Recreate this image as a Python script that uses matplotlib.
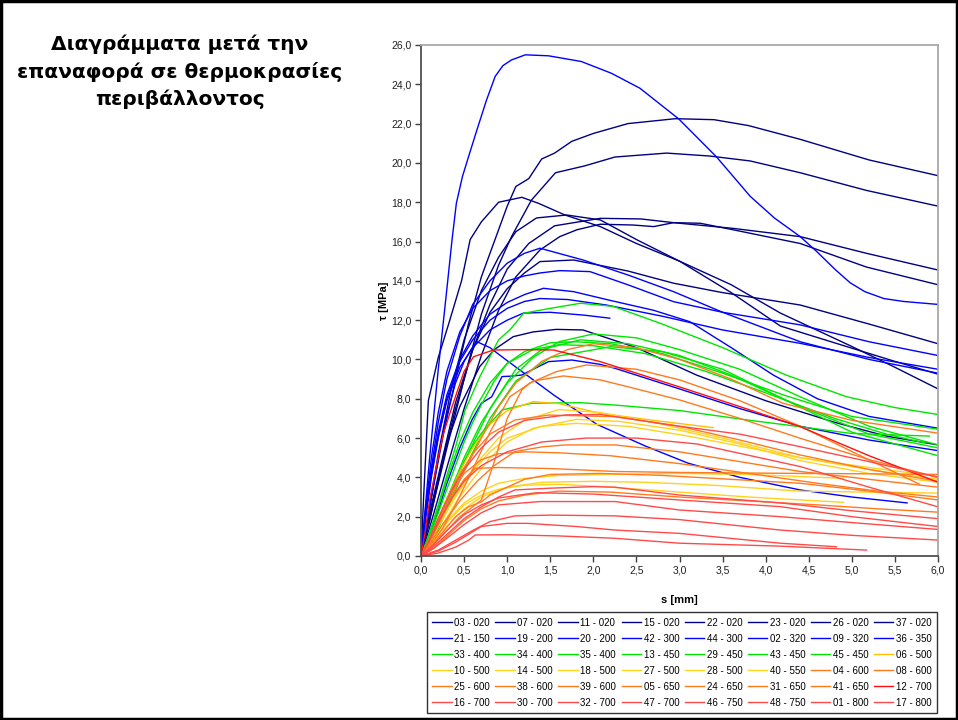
import matplotlib
matplotlib.use("Agg")
import matplotlib.pyplot as plt
from matplotlib.patches import Rectangle
from matplotlib.ticker import FuncFormatter, MultipleLocator

# ---- slip s [mm] and shear stress tau [MPa] for each specimen ----
# 020 (navy)
s_03_020 = [0, 0.1, 0.25, 0.4, 0.55, 0.7, 0.85, 1.0, 1.1, 1.25, 1.4, 1.55, 1.75, 2.0, 2.4, 2.95, 3.4, 3.8, 4.4, 5.2, 6.0]
t_03_020 = [0, 2.5, 6.0, 9.0, 11.8, 14.2, 16.0, 17.8, 18.8, 19.2, 20.2, 20.5, 21.1, 21.5, 22.0, 22.25, 22.2, 21.9, 21.2, 20.15, 19.35]
s_07_020 = [0, 0.15, 0.3, 0.5, 0.7, 0.9, 1.05, 1.28, 1.56, 1.9, 2.25, 2.85, 3.35, 3.82, 4.4, 5.17, 6.0]
t_07_020 = [0, 2.8, 5.5, 9.0, 12.3, 14.8, 16.25, 18.1, 19.5, 19.85, 20.3, 20.5, 20.35, 20.1, 19.5, 18.6, 17.8]
s_11_020 = [0, 0.03, 0.085, 0.2, 0.32, 0.47, 0.57, 0.7, 0.9, 1.17, 1.36, 1.67, 2.08, 2.5, 3.0, 3.6, 4.17, 4.98, 5.5, 6.0]
t_11_020 = [0, 3.0, 7.9, 10.1, 11.8, 14.0, 16.1, 17.0, 18.0, 18.25, 17.95, 17.35, 16.76, 15.9, 15.0, 13.8, 12.36, 10.7, 9.6, 8.5]
s_15_020 = [0, 0.1, 0.2, 0.35, 0.5, 0.7, 0.9, 1.1, 1.34, 1.69, 2.08, 2.5, 3.0, 3.6, 4.17, 4.98, 5.5, 6.0]
t_15_020 = [0, 2.5, 5.2, 8.5, 11.0, 13.5, 15.2, 16.5, 17.2, 17.35, 17.1, 16.1, 15.0, 13.4, 11.7, 10.6, 9.9, 9.25]
s_22_020 = [0, 0.1, 0.25, 0.4, 0.6, 0.8, 1.0, 1.25, 1.55, 2.08, 2.55, 2.93, 3.62, 4.4, 5.17, 6.0]
t_22_020 = [0, 2.0, 4.8, 7.5, 10.5, 12.8, 14.6, 15.9, 16.8, 17.18, 17.15, 16.96, 16.67, 16.25, 15.4, 14.55]
s_23_020 = [0, 0.15, 0.3, 0.5, 0.7, 0.9, 1.1, 1.38, 1.61, 1.81, 2.08, 2.46, 2.7, 2.93, 3.24, 3.62, 4.4, 5.17, 6.0]
t_23_020 = [0, 2.2, 4.5, 7.5, 10.2, 12.5, 14.2, 15.57, 16.25, 16.6, 16.88, 16.84, 16.76, 16.96, 16.93, 16.6, 15.9, 14.7, 13.8]
s_26_020 = [0, 0.1, 0.25, 0.4, 0.6, 0.8, 1.0, 1.2, 1.38, 1.77, 2.4, 2.93, 3.5, 4.4, 5.2, 6.0]
t_26_020 = [0, 2.2, 5.0, 7.8, 10.5, 12.4, 13.6, 14.4, 14.98, 15.06, 14.5, 13.88, 13.4, 12.77, 11.8, 10.8]
s_37_020 = [0, 0.1, 0.2, 0.3, 0.45, 0.68, 0.85, 1.07, 1.3, 1.57, 1.88, 2.5, 3.2, 4.0, 4.8, 5.4, 6.0]
t_37_020 = [0, 1.8, 3.8, 5.74, 7.6, 9.63, 10.5, 11.16, 11.4, 11.53, 11.5, 10.6, 9.2, 7.9, 6.8, 6.1, 5.65]

# 150 - 350 (blue)
s_21_150 = [0, 0.05, 0.1, 0.2, 0.3, 0.36, 0.41, 0.48, 0.55, 0.65, 0.76, 0.86, 0.95, 1.05, 1.21, 1.48, 1.86, 2.21, 2.54, 2.99,
            3.43, 3.82, 4.1, 4.4, 4.59, 4.8, 4.98, 5.15, 5.37, 5.6, 6.0]
t_21_150 = [0, 2.5, 5.0, 9.5, 13.6, 16.1, 17.95, 19.3, 20.3, 21.7, 23.2, 24.4, 24.95, 25.24, 25.5, 25.45, 25.16, 24.56, 23.8, 22.24,
            20.3, 18.3, 17.2, 16.25, 15.5, 14.6, 13.9, 13.45, 13.1, 12.95, 12.8]
s_19_200 = [0, 0.05, 0.12, 0.2, 0.3, 0.45, 0.6, 0.8, 1.0, 1.2, 1.38, 1.88, 2.4, 2.93, 3.5, 4.4, 5.2, 6.0]
t_19_200 = [0, 2.0, 4.5, 6.8, 9.0, 11.2, 12.8, 14.0, 14.9, 15.4, 15.66, 15.06, 14.3, 13.45, 12.4, 10.9, 10.0, 9.3]
s_20_200 = [0, 0.05, 0.12, 0.2, 0.3, 0.45, 0.6, 0.8, 1.0, 1.2, 1.38, 1.61, 1.96, 2.4, 2.93, 3.5, 4.4, 5.2, 6.0]
t_20_200 = [0, 2.3, 5.0, 7.3, 9.4, 11.4, 12.6, 13.5, 14.0, 14.25, 14.4, 14.52, 14.47, 13.8, 12.94, 12.4, 11.76, 10.9, 10.2]
s_42_300 = [0, 0.05, 0.12, 0.2, 0.3, 0.45, 0.6, 0.8, 1.0, 1.2, 1.42, 1.77, 2.2, 2.7, 3.12, 3.6, 4.09, 4.6, 5.2, 6.0]
t_42_300 = [0, 2.0, 4.3, 6.3, 8.2, 10.0, 11.2, 12.3, 12.9, 13.3, 13.62, 13.45, 13.0, 12.5, 11.92, 10.6, 9.2, 8.0, 7.1, 6.5]
s_44_300 = [0, 0.05, 0.12, 0.2, 0.3, 0.45, 0.6, 0.8, 1.0, 1.2, 1.38, 1.7, 2.15, 2.8, 3.5, 4.4, 5.2, 6.0]
t_44_300 = [0, 1.8, 4.0, 6.0, 8.0, 9.9, 11.0, 12.0, 12.6, 12.95, 13.1, 13.05, 12.77, 12.2, 11.5, 10.82, 10.1, 9.5]
s_02_320 = [0, 0.05, 0.12, 0.2, 0.3, 0.45, 0.6, 0.8, 1.0, 1.19, 1.5, 1.9, 2.19]
t_02_320 = [0, 2.0, 4.2, 6.1, 7.9, 9.6, 10.6, 11.5, 12.0, 12.36, 12.4, 12.25, 12.1]
s_09_320 = [0, 0.1, 0.2, 0.3, 0.4, 0.5, 0.58, 0.65, 0.8, 0.99, 1.54, 2.04, 2.6, 3.1, 3.7, 4.4, 5.0, 5.64]
t_09_320 = [0, 2.5, 5.0, 7.2, 8.8, 9.9, 10.5, 10.9, 10.6, 9.97, 8.19, 6.7, 5.6, 4.72, 4.0, 3.36, 3.0, 2.7]
s_36_350 = [0, 0.1, 0.2, 0.3, 0.45, 0.59, 0.7, 0.82, 0.94, 1.05, 1.17, 1.3, 1.48, 1.75, 2.08, 2.25, 3.0, 3.7, 4.4, 5.2, 6.0]
t_36_350 = [0, 1.0, 2.3, 3.7, 5.5, 6.92, 7.77, 8.1, 9.13, 9.15, 9.21, 9.5, 9.89, 9.97, 9.75, 9.55, 8.5, 7.5, 6.6, 5.9, 5.36]

# 400 - 450 (green)
s_33_400 = [0, 0.1, 0.2, 0.3, 0.41, 0.51, 0.68, 0.9, 1.03, 1.19, 1.5, 1.85, 2.23, 2.8, 3.5, 4.24, 4.94, 5.5, 6.0]
t_33_400 = [0, 1.2, 2.6, 4.1, 5.7, 7.4, 9.1, 11.0, 11.5, 12.35, 12.6, 12.86, 12.7, 11.8, 10.6, 9.2, 8.1, 7.55, 7.2]
s_34_400 = [0, 0.1, 0.2, 0.3, 0.4, 0.5, 0.6, 0.7, 0.94, 1.28, 1.85, 2.25, 3.0, 3.82, 4.4, 4.98, 5.9]
t_34_400 = [0, 0.9, 1.9, 2.9, 3.9, 4.8, 5.6, 6.24, 7.43, 7.77, 7.8, 7.68, 7.4, 6.9, 6.58, 6.24, 6.1]
s_35_400 = [0, 0.1, 0.2, 0.3, 0.4, 0.5, 0.6, 0.7, 0.85, 1.0, 1.2, 1.5, 1.8, 2.2, 2.8, 3.5, 4.2, 5.0, 6.0]
t_35_400 = [0, 1.0, 2.2, 3.4, 4.6, 5.8, 6.8, 7.7, 8.9, 9.8, 10.4, 10.85, 10.9, 10.8, 10.3, 9.3, 8.2, 7.1, 6.45]
s_13_450 = [0, 0.1, 0.2, 0.35, 0.5, 0.7, 1.0, 1.3, 1.6, 2.0, 2.5, 3.0, 3.7, 4.4, 5.2, 6.0]
t_13_450 = [0, 0.8, 1.8, 3.4, 5.0, 6.8, 8.8, 10.1, 10.9, 11.3, 11.1, 10.5, 9.5, 8.1, 6.6, 5.65]
s_29_450 = [0, 0.1, 0.2, 0.35, 0.5, 0.8, 1.1, 1.4, 1.85, 2.4, 3.0, 3.6, 4.4, 5.2, 6.0]
t_29_450 = [0, 0.7, 1.6, 3.1, 4.8, 7.5, 9.5, 10.5, 11.0, 10.8, 10.2, 9.2, 7.6, 6.2, 5.5]
s_43_450 = [0, 0.1, 0.2, 0.35, 0.5, 0.8, 1.1, 1.5, 2.2, 2.8, 3.5, 4.2, 5.0, 6.0]
t_43_450 = [0, 0.6, 1.4, 2.8, 4.4, 7.0, 8.9, 10.1, 10.65, 10.4, 9.5, 8.0, 6.3, 5.1]
s_45_450 = [0, 0.1, 0.2, 0.3, 0.45, 0.6, 0.8, 1.0, 1.3, 1.6, 2.0, 2.6, 3.3, 4.0, 4.8, 5.4, 5.85]
t_45_450 = [0, 1.1, 2.5, 3.9, 5.8, 7.3, 8.8, 9.8, 10.5, 10.75, 10.7, 10.3, 9.4, 8.3, 7.0, 6.2, 5.75]

# 500 - 550 (yellow)
s_06_500 = [0, 0.1, 0.2, 0.3, 0.45, 0.6, 0.8, 1.0, 1.3, 1.6, 2.08, 2.7, 3.39]
t_06_500 = [0, 0.9, 1.9, 2.9, 4.3, 5.5, 6.7, 7.4, 7.85, 7.75, 7.26, 6.9, 6.53]
s_10_500 = [0, 0.1, 0.2, 0.35, 0.5, 0.7, 0.9, 1.2, 1.6, 2.08, 2.8, 3.5, 4.4, 5.2, 6.0]
t_10_500 = [0, 0.7, 1.5, 2.7, 3.8, 5.0, 6.0, 6.9, 7.45, 7.3, 6.7, 6.0, 5.0, 4.4, 3.9]
s_14_500 = [0, 0.1, 0.25, 0.4, 0.6, 0.8, 1.0, 1.3, 1.8, 2.3, 3.0, 3.7, 4.4, 5.2, 6.0]
t_14_500 = [0, 0.6, 1.6, 2.7, 3.9, 5.0, 5.8, 6.5, 6.95, 6.85, 6.4, 5.7, 4.85, 4.2, 3.75]
s_18_500 = [0, 0.1, 0.2, 0.35, 0.5, 0.7, 0.9, 1.2, 1.6, 2.2, 3.0, 3.8, 4.9]
t_18_500 = [0, 0.5, 1.1, 2.0, 2.7, 3.3, 3.7, 3.95, 4.1, 4.15, 4.2, 4.15, 3.95]
s_27_500 = [0, 0.15, 0.3, 0.5, 0.7, 1.0, 1.4, 2.0, 2.6, 3.4, 4.4, 5.2, 6.0]
t_27_500 = [0, 0.7, 1.5, 2.4, 3.0, 3.5, 3.75, 3.8, 3.75, 3.6, 3.3, 3.25, 3.2]
s_28_500 = [0, 0.15, 0.3, 0.5, 0.7, 0.9, 1.2, 1.6, 2.2, 3.0, 3.8, 4.9]
t_28_500 = [0, 0.8, 1.7, 2.6, 3.1, 3.4, 3.6, 3.65, 3.5, 3.25, 3.0, 2.73]
s_40_550 = [0, 0.1, 0.25, 0.4, 0.6, 0.8, 1.0, 1.4, 1.8, 2.4, 3.1, 3.8, 4.4, 5.2, 6.0]
t_40_550 = [0, 0.8, 1.9, 3.0, 4.3, 5.3, 6.0, 6.6, 6.75, 6.6, 6.1, 5.5, 5.0, 4.5, 4.05]

# 600 - 650 (orange)
s_04_600 = [0, 0.1, 0.2, 0.35, 0.5, 0.7, 0.9, 1.1, 1.4, 1.7, 2.0, 2.5, 3.0, 3.6, 4.2, 5.0, 6.0]
t_04_600 = [0, 0.7, 1.6, 3.0, 4.3, 6.0, 7.6, 8.8, 9.9, 10.5, 10.8, 10.6, 10.0, 9.0, 7.77, 6.9, 6.25]
s_08_600 = [0, 0.15, 0.3, 0.45, 0.6, 0.7, 0.85, 1.0, 1.17, 1.26, 1.57, 1.92, 2.5, 3.0, 3.7, 4.4, 5.1, 5.78]
t_08_600 = [0, 0.6, 1.3, 2.0, 2.5, 2.85, 4.8, 7.0, 8.45, 8.79, 9.38, 9.72, 9.5, 8.96, 7.9, 6.6, 5.1, 3.66]
s_25_600 = [0, 0.1, 0.25, 0.4, 0.6, 0.8, 1.03, 1.3, 1.65, 2.08, 2.5, 3.0, 3.7, 4.4, 5.2, 6.0]
t_25_600 = [0, 0.5, 1.4, 2.6, 4.4, 6.3, 8.1, 8.9, 9.16, 8.96, 8.5, 7.94, 7.0, 5.99, 4.9, 4.0]
s_38_600 = [0, 0.1, 0.25, 0.4, 0.6, 0.8, 1.09, 1.48, 2.25, 3.0, 3.7, 4.4, 5.2, 6.0]
t_38_600 = [0, 0.9, 2.4, 3.8, 5.2, 6.2, 6.92, 7.17, 7.09, 6.6, 5.9, 5.14, 4.4, 3.8]
s_39_600 = [0, 0.1, 0.25, 0.45, 0.65, 0.85, 1.09, 1.4, 1.67, 2.25, 3.0, 3.7, 4.4, 5.2, 6.0]
t_39_600 = [0, 0.6, 1.6, 2.8, 3.8, 4.6, 5.31, 5.55, 5.65, 5.65, 5.3, 4.8, 4.3, 3.9, 3.5]
s_05_650 = [0, 0.1, 0.2, 0.35, 0.5, 0.63, 0.9, 1.5, 2.25, 3.0, 4.4, 5.2, 6.0]
t_05_650 = [0, 0.8, 1.7, 2.9, 3.9, 4.46, 4.5, 4.45, 4.3, 4.25, 4.2, 4.18, 4.15]
s_24_650 = [0, 0.1, 0.25, 0.4, 0.55, 0.7, 0.8, 0.9, 1.0, 1.2, 1.5, 2.08, 2.8, 3.6, 4.4, 5.2, 6.0]
t_24_650 = [0, 0.4, 1.2, 2.0, 2.5, 2.75, 3.1, 3.3, 3.5, 3.9, 4.15, 4.2, 4.1, 3.9, 3.7, 3.3, 2.85]
s_31_650 = [0, 0.15, 0.3, 0.5, 0.7, 0.9, 1.2, 1.6, 2.2, 3.0, 3.8, 4.6, 5.3, 6.0]
t_31_650 = [0, 0.4, 1.0, 1.8, 2.4, 2.8, 3.1, 3.3, 3.25, 3.0, 2.8, 2.6, 2.4, 2.23]
s_41_650 = [0, 0.1, 0.2, 0.35, 0.5, 0.7, 0.9, 1.2, 1.6, 2.2, 3.0, 3.8, 4.6, 5.3, 6.0]
t_41_650 = [0, 0.8, 1.8, 3.2, 4.2, 4.9, 5.2, 5.3, 5.25, 5.1, 4.7, 4.2, 3.7, 3.3, 3.0]

# 700 - 800 (red)
s_12_700 = [0, 0.05, 0.1, 0.18, 0.26, 0.36, 0.5, 0.61, 0.84, 1.2, 1.54, 2.08, 3.0, 3.7, 4.4, 5.2, 6.0]
t_12_700 = [0, 1.3, 2.85, 4.6, 6.24, 7.6, 9.4, 10.14, 10.48, 10.5, 10.48, 9.89, 8.6, 7.6, 6.58, 5.1, 3.75]
s_16_700 = [0, 0.1, 0.2, 0.35, 0.5, 0.7, 0.9, 1.2, 1.69, 2.08, 3.0, 3.7, 4.4, 5.2, 6.0]
t_16_700 = [0, 0.9, 1.9, 3.3, 4.4, 5.5, 6.3, 6.9, 7.18, 7.2, 6.6, 6.2, 5.56, 4.8, 4.0]
s_30_700 = [0, 0.1, 0.2, 0.35, 0.5, 0.7, 1.0, 1.4, 1.92, 2.5, 3.2, 4.4, 5.2, 6.0]
t_30_700 = [0, 0.8, 1.7, 2.9, 3.8, 4.6, 5.3, 5.8, 6.0, 6.0, 5.7, 4.55, 3.5, 2.5]
s_32_700 = [0, 0.15, 0.3, 0.5, 0.7, 0.9, 1.09, 1.5, 2.0, 2.25, 3.0, 4.17, 5.0, 6.0]
t_32_700 = [0, 0.5, 1.1, 1.9, 2.5, 3.0, 3.36, 3.45, 3.53, 3.5, 3.1, 2.7, 2.3, 1.9]
s_47_700 = [0, 0.15, 0.3, 0.5, 0.7, 0.9, 1.34, 2.0, 3.0, 4.17, 5.0, 6.0]
t_47_700 = [0, 0.6, 1.3, 2.1, 2.6, 2.95, 3.22, 3.15, 2.85, 2.51, 2.0, 1.5]
s_46_750 = [0, 0.15, 0.3, 0.5, 0.7, 0.9, 1.38, 2.25, 3.0, 4.17, 5.0, 6.0]
t_46_750 = [0, 0.4, 0.9, 1.6, 2.2, 2.6, 2.77, 2.77, 2.34, 2.0, 1.7, 1.35]
s_48_750 = [0, 0.2, 0.4, 0.6, 0.8, 1.09, 1.5, 2.25, 3.0, 4.17, 5.0, 6.0]
t_48_750 = [0, 0.3, 0.8, 1.3, 1.75, 2.04, 2.08, 2.04, 1.85, 1.32, 1.05, 0.81]
s_01_800 = [0, 0.2, 0.4, 0.55, 0.7, 1.0, 1.24, 1.8, 2.25, 3.0, 4.17, 4.82]
t_01_800 = [0, 0.25, 0.7, 1.1, 1.5, 1.66, 1.66, 1.5, 1.32, 1.15, 0.65, 0.47]
s_17_800 = [0, 0.2, 0.4, 0.55, 0.63, 1.0, 1.6, 2.25, 3.0, 4.17, 5.17]
t_17_800 = [0, 0.15, 0.45, 0.8, 1.07, 1.08, 1.02, 0.9, 0.65, 0.5, 0.3]

NAVY = '#000080'
BLUE = '#0000FF'
GREEN = '#00E600'
GOLD = '#FFC000'
YELLOW = '#FFD21F'
ORANGE = '#FF7A1F'
RED = '#FF1010'
SALMON = '#FF4A4A'

series = [
    ('03 - 020', s_03_020, t_03_020, NAVY), ('07 - 020', s_07_020, t_07_020, NAVY),
    ('11 - 020', s_11_020, t_11_020, NAVY), ('15 - 020', s_15_020, t_15_020, NAVY),
    ('22 - 020', s_22_020, t_22_020, NAVY), ('23 - 020', s_23_020, t_23_020, NAVY),
    ('26 - 020', s_26_020, t_26_020, NAVY), ('37 - 020', s_37_020, t_37_020, NAVY),
    ('21 - 150', s_21_150, t_21_150, BLUE), ('19 - 200', s_19_200, t_19_200, BLUE),
    ('20 - 200', s_20_200, t_20_200, BLUE), ('42 - 300', s_42_300, t_42_300, BLUE),
    ('44 - 300', s_44_300, t_44_300, BLUE), ('02 - 320', s_02_320, t_02_320, BLUE),
    ('09 - 320', s_09_320, t_09_320, BLUE), ('36 - 350', s_36_350, t_36_350, BLUE),
    ('33 - 400', s_33_400, t_33_400, GREEN), ('34 - 400', s_34_400, t_34_400, GREEN),
    ('35 - 400', s_35_400, t_35_400, GREEN), ('13 - 450', s_13_450, t_13_450, GREEN),
    ('29 - 450', s_29_450, t_29_450, GREEN), ('43 - 450', s_43_450, t_43_450, GREEN),
    ('45 - 450', s_45_450, t_45_450, GREEN), ('06 - 500', s_06_500, t_06_500, GOLD),
    ('10 - 500', s_10_500, t_10_500, YELLOW), ('14 - 500', s_14_500, t_14_500, YELLOW),
    ('18 - 500', s_18_500, t_18_500, YELLOW), ('27 - 500', s_27_500, t_27_500, YELLOW),
    ('28 - 500', s_28_500, t_28_500, YELLOW), ('40 - 550', s_40_550, t_40_550, YELLOW),
    ('04 - 600', s_04_600, t_04_600, ORANGE), ('08 - 600', s_08_600, t_08_600, ORANGE),
    ('25 - 600', s_25_600, t_25_600, ORANGE), ('38 - 600', s_38_600, t_38_600, ORANGE),
    ('39 - 600', s_39_600, t_39_600, ORANGE), ('05 - 650', s_05_650, t_05_650, ORANGE),
    ('24 - 650', s_24_650, t_24_650, ORANGE), ('31 - 650', s_31_650, t_31_650, ORANGE),
    ('41 - 650', s_41_650, t_41_650, ORANGE), ('12 - 700', s_12_700, t_12_700, RED),
    ('16 - 700', s_16_700, t_16_700, SALMON), ('30 - 700', s_30_700, t_30_700, SALMON),
    ('32 - 700', s_32_700, t_32_700, SALMON), ('47 - 700', s_47_700, t_47_700, SALMON),
    ('46 - 750', s_46_750, t_46_750, SALMON), ('48 - 750', s_48_750, t_48_750, SALMON),
    ('01 - 800', s_01_800, t_01_800, SALMON), ('17 - 800', s_17_800, t_17_800, SALMON),
]

plt.rcParams['font.family'] = ['Liberation Sans', 'DejaVu Sans']

fig = plt.figure(figsize=(9.58, 7.2), dpi=100)
ax = fig.add_axes([0.4395, 0.2278, 0.5397, 0.7097])

handles = []
for label, s, t, col in series:
    h, = ax.plot(s, t, color=col, lw=1.0, label=label)
    handles.append(h)

ax.set_xlim(0, 6)
ax.set_ylim(0, 26)
ax.xaxis.set_major_locator(MultipleLocator(0.5))
ax.yaxis.set_major_locator(MultipleLocator(2))
comma = FuncFormatter(lambda v, _: f"{v:.1f}".replace('.', ','))
ax.xaxis.set_major_formatter(comma)
ax.yaxis.set_major_formatter(comma)
ax.tick_params(direction='out', length=4, width=1, labelsize=7.5, color='#404040', labelcolor='#202020', pad=3)

for side in ('left', 'bottom'):
    ax.spines[side].set_color('#505050')
    ax.spines[side].set_linewidth(1.3)
for side in ('top', 'right'):
    ax.spines[side].set_color('#a8a8a8')
    ax.spines[side].set_linewidth(1.3)

ax.set_xlabel('s [mm]', fontsize=8, fontweight='bold', labelpad=14)
ax.set_ylabel('τ [MPa]', fontsize=8, fontweight='bold')
ax.yaxis.set_label_coords(-0.062, 0.5)

# legend laid out row by row, 8 columns x 6 rows
ncol, nrow = 8, 6
order = [r * ncol + c for c in range(ncol) for r in range(nrow)]
leg = fig.legend([handles[i] for i in order], [series[i][0] for i in order],
                 loc='lower left', bbox_to_anchor=(0.4457, 0.0097, 0.5324, 0.139),
                 mode='expand', ncol=ncol, fontsize=7, frameon=True, fancybox=False,
                 edgecolor='black', handlelength=2.0, handletextpad=0.25,
                 columnspacing=0.5, labelspacing=0.62, borderpad=0.55, borderaxespad=0)
leg.get_frame().set_linewidth(1.0)

fig.text(0.188, 0.952, 'Διαγράμματα μετά την\nεπαναφορά σε θερμοκρασίες\nπεριβάλλοντος',
         ha='center', va='top', fontsize=14.5, fontweight='bold',
         family=['DejaVu Sans'], linespacing=1.5)

# outer frame
fig.patches.append(Rectangle((0.001, 0.001), 0.998, 0.998, transform=fig.transFigure,
                             fill=False, edgecolor='black', linewidth=2.5))

fig.savefig('out.png', dpi=100)
